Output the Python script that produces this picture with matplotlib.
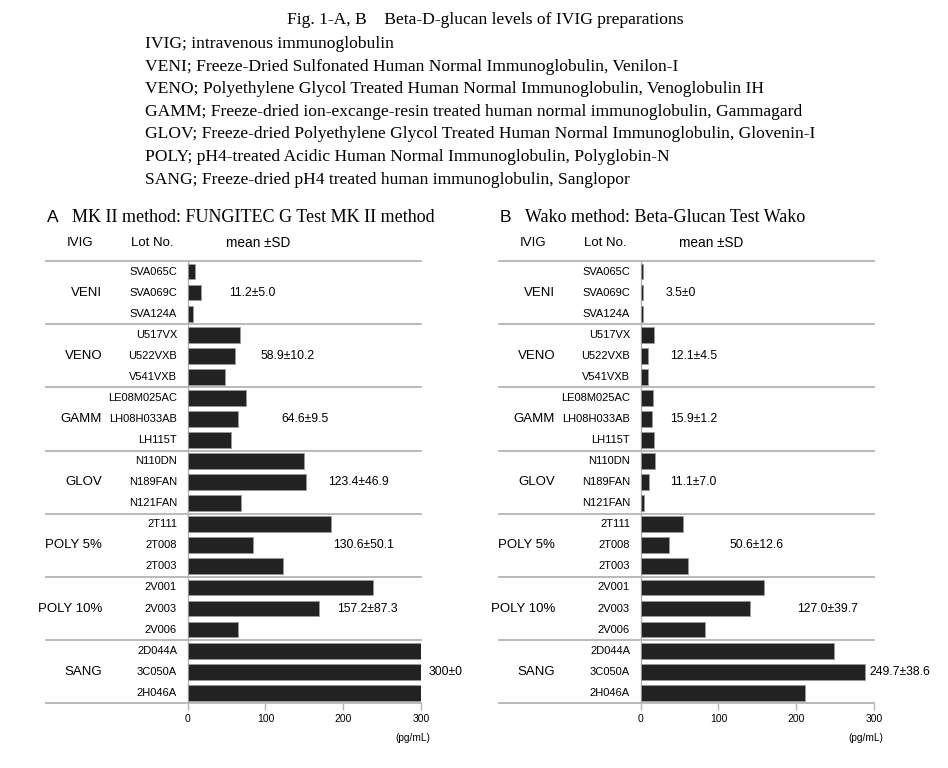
"""Beta-D-glucan levels of IVIG preparations (Fig. 1-A, B)."""

import matplotlib
matplotlib.use("Agg")
import matplotlib.pyplot as plt
from matplotlib.transforms import blended_transform_factory

# ---- data -------------------------------------------------------------
groups = ["VENI", "VENO", "GAMM", "GLOV", "POLY 5%", "POLY 10%", "SANG"]
lots = [
    ["SVA065C", "SVA069C", "SVA124A"],
    ["U517VX", "U522VXB", "V541VXB"],
    ["LE08M025AC", "LH08H033AB", "LH115T"],
    ["N110DN", "N189FAN", "N121FAN"],
    ["2T111", "2T008", "2T003"],
    ["2V001", "2V003", "2V006"],
    ["2D044A", "3C050A", "2H046A"],
]
mk_values = [
    [9.4, 17.0, 7.2],
    [67.5, 61.3, 48.0],
    [74.5, 64.3, 55.2],
    [149.2, 152.3, 69.0],
    [184.0, 84.4, 123.0],
    [238.0, 169.3, 64.7],
    [300.0, 300.0, 300.0],
]
wako_values = [
    [3.5, 3.5, 3.5],
    [17.3, 9.3, 10.0],
    [15.3, 15.0, 17.4],
    [18.5, 10.3, 4.5],
    [54.9, 36.4, 60.5],
    [158.6, 140.1, 82.3],
    [249.0, 289.0, 211.5],
]
mk_summary = ["11.2\u00b15.0", "58.9\u00b110.2", "64.6\u00b19.5", "123.4\u00b146.9",
              "130.6\u00b150.1", "157.2\u00b187.3", "300\u00b10"]
wako_summary = ["3.5\u00b10", "12.1\u00b14.5", "15.9\u00b11.2", "11.1\u00b17.0",
                "50.6\u00b112.6", "127.0\u00b139.7", "249.7\u00b138.6"]
x_ticks = [0, 100, 200, 300]

fig_title = "Fig. 1-A, B\u2003Beta-D-glucan levels of IVIG preparations"
legend_lines = [
    "IVIG; intravenous immunoglobulin",
    "VENI; Freeze-Dried Sulfonated Human Normal Immunoglobulin, Venilon-I",
    "VENO; Polyethylene Glycol Treated Human Normal Immunoglobulin, Venoglobulin IH",
    "GAMM; Freeze-dried ion-excange-resin treated human normal immunoglobulin, Gammagard",
    "GLOV; Freeze-dried Polyethylene Glycol Treated Human Normal Immunoglobulin, Glovenin-I",
    "POLY; pH4-treated Acidic Human Normal Immunoglobulin, Polyglobin-N",
    "SANG; Freeze-dried pH4 treated human immunoglobulin, Sanglopor",
]

W, H = 948, 768
SERIF = ["Liberation Serif", "DejaVu Serif"]
SANS = ["Liberation Sans", "DejaVu Sans"]
BAR = "#222222"
GRID = "#b4b4b4"

fig = plt.figure(figsize=(W / 100, H / 100), dpi=100)


def fx(px):
    return px / W


def fy(py):
    return 1 - py / H


# header text block
fig.text(fx(287), fy(20), fig_title, family=SERIF, fontsize=12.6, va="center")
for i, line in enumerate(legend_lines):
    fig.text(fx(145), fy(44 + i * 22.6), line, family=SERIF, fontsize=12.6,
             va="center")


def draw_panel(left_px, letter, title, values, summary, label_x):
    ax = fig.add_axes([fx(left_px), fy(703.3), fx(233.3), (703.3 - 261) / H])
    n_rows = sum(len(g) for g in lots)
    tr = blended_transform_factory(ax.transAxes, ax.transData)
    row = 0
    for gi, (grp, lot_names, vals) in enumerate(zip(groups, lots, values)):
        ys = [row + k for k in range(len(vals))]
        ax.barh(ys, vals, height=0.75, color=BAR, edgecolor="#9a9a9a",
                linewidth=0.6, zorder=3)
        mid = row + (len(vals) - 1) / 2
        ax.text(-0.367, mid, grp, transform=tr, ha="right", va="center",
                family=SANS, fontsize=9.5)
        for y, name in zip(ys, lot_names):
            ax.text(-0.046, y, name, transform=tr, ha="right", va="center",
                    family=SANS, fontsize=8)
        ax.text(label_x[gi], mid, summary[gi], ha="left", va="center",
                family=SANS, fontsize=8.8)
        row += len(vals)

    bounds = [-0.5]
    acc = -0.5
    for vals in values:
        acc += len(vals)
        bounds.append(acc)
    for b in bounds:
        ax.plot([-0.607, 1.0], [b, b], transform=tr, color=GRID, lw=1.3,
                clip_on=False, zorder=2)

    ax.set_ylim(n_rows - 0.5, -0.5)
    ax.set_xlim(0, 300)
    ax.set_xticks(x_ticks)
    ax.set_xticklabels([str(t) for t in x_ticks], family=SANS, fontsize=7.5)
    ax.set_yticks([])
    for side in ["top", "right", "bottom"]:
        ax.spines[side].set_visible(False)
    ax.spines["left"].set_color(GRID)
    ax.spines["left"].set_linewidth(1.0)
    ax.tick_params(axis="x", length=5, color=GRID, width=1.0, pad=3)
    ax.patch.set_alpha(0)

    # column headers and panel title
    ta = ax.transAxes
    span = 703.3 - 261
    dy = 18 / span
    ax.text(-0.462, 1 + dy, "IVIG", transform=ta, ha="center", va="center",
            family=SANS, fontsize=9.5)
    ax.text(-0.151, 1 + dy, "Lot No.", transform=ta, ha="center",
            va="center", family=SANS, fontsize=9.5)
    ax.text(0.303, 1 + dy, "mean \u00b1SD", transform=ta, ha="center",
            va="center", family=SANS, fontsize=9.8)
    dy2 = 44 / span
    ax.text(-0.604, 1 + dy2, letter, transform=ta, ha="left", va="center",
            family=SANS, fontsize=12.5)
    ax.text(-0.497, 1 + dy2, title, transform=ta, ha="left", va="center",
            family=SERIF, fontsize=13)
    ax.text(1.039, -35 / span, "(pg/mL)", transform=ta, ha="right",
            va="center", family=SANS, fontsize=7.3)
    return ax


draw_panel(187.7, "A", "MK II method: FUNGITEC G Test MK II method",
           mk_values, mk_summary, [53, 94, 120, 180, 187, 192.5, 309.5])
draw_panel(640.7, "B", "Wako method: Beta-Glucan Test Wako",
           wako_values, wako_summary, [32, 38, 38, 38, 114, 201, 294])

fig.savefig("out.png", dpi=100)
